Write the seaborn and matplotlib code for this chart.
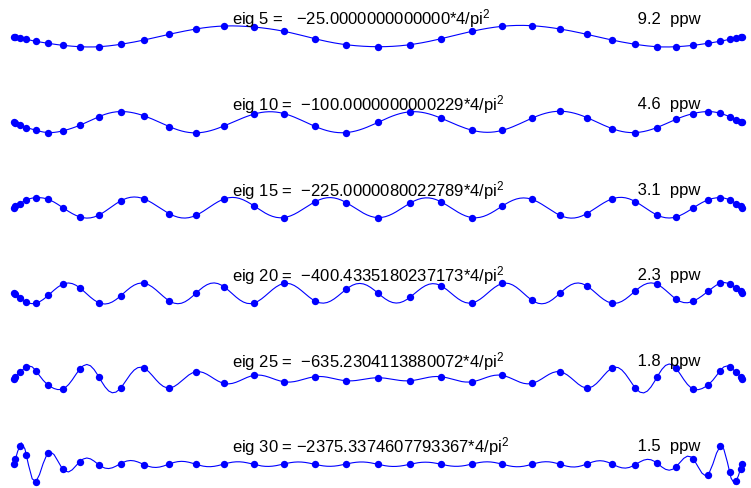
import numpy as np
import matplotlib
matplotlib.use('Agg')
import matplotlib.pyplot as plt
import seaborn as sns
from numpy.polynomial import chebyshev as C

# Chebyshev grid size and the eigenmodes shown
N = 36
modes = [5, 10, 15, 20, 25, 30]
eigvals = [-25.0000000000000, -100.0000000000229, -225.0000080022789,
           -400.4335180237173, -635.2304113880072, -2375.3374607793367]
ppw = [9.2, 4.6, 3.1, 2.3, 1.8, 1.5]

# eigenvector values at the grid points, read left to right (x = -1 ... 1)
eig5 = [0, -0.005, -0.032, -0.076, -0.130, -0.184, -0.238, -0.276, -0.276, -0.211,
        -0.095, 0.059, 0.203, 0.284, 0.257, 0.141, -0.059, -0.222, -0.276, -0.222,
        -0.059, 0.141, 0.276, 0.292, 0.203, 0.059, -0.095, -0.211, -0.276, -0.276,
        -0.238, -0.184, -0.130, -0.076, -0.032, -0.005, 0]
eig10 = [0, -0.014, -0.076, -0.149, -0.222, -0.284, -0.238, -0.086, 0.149, 0.284,
         0.168, -0.122, -0.292, -0.103, 0.211, 0.230, -0.114, -0.284, -0.008, 0.276,
         0.103, -0.222, -0.222, 0.103, 0.292, 0.122, -0.176, -0.284, -0.149, 0.076,
         0.230, 0.284, 0.238, 0.149, 0.068, 0.014, 0]
eig15 = [0, 0.046, 0.108, 0.208, 0.270, 0.224, 0.0, -0.251, -0.197, 0.181,
         0.235, -0.162, -0.208, 0.235, 0.054, -0.270, 0.154, 0.135, -0.270, 0.116,
         0.154, -0.270, 0.046, 0.224, -0.208, -0.162, 0.235, 0.162, -0.197, -0.251,
         -0.008, 0.208, 0.270, 0.208, 0.108, 0.046, 0]
eig20 = [0, -0.027, -0.135, -0.251, -0.270, -0.062, 0.243, 0.143, -0.262, -0.073,
         0.270, -0.208, 0.0, 0.170, -0.270, 0.262, -0.208, 0.108, 0.0, -0.116,
         0.197, -0.262, 0.262, -0.189, 0.0, 0.197, -0.270, 0.062, 0.243, -0.162,
         -0.216, 0.046, 0.270, 0.243, 0.135, 0.054, 0]
eig25 = [0, 0.054, 0.170, 0.324, 0.216, -0.170, -0.278, 0.262, 0.035, -0.251,
         0.289, -0.251, 0.189, -0.127, 0.089, -0.081, 0.054, -0.054, 0.027, -0.054,
         0.054, -0.081, 0.089, -0.127, 0.189, -0.251, 0.289, -0.251, 0.035, 0.278,
         -0.278, -0.170, 0.216, 0.324, 0.170, 0.054, 0]
eig30 = [0, 0.143, 0.505, 0.251, -0.468, 0.305, -0.127, 0.073, -0.019, 0.019,
         -0.008, 0.008, 0, 0.008, 0, 0.008, 0, 0.008, 0, 0,
         0, 0.008, 0, 0, 0, 0.008, 0.008, -0.008, 0.035, -0.062,
         0.143, -0.278, 0.486, -0.216, -0.459, -0.127, 0]
vectors = [eig5, eig10, eig15, eig20, eig25, eig30]

sns.set_style('white')
plt.rcParams['font.family'] = ['Liberation Sans', 'DejaVu Sans']
plt.rcParams['mathtext.fontset'] = 'custom'
plt.rcParams['mathtext.rm'] = 'Liberation Sans'
plt.rcParams['mathtext.default'] = 'regular'
plt.rcParams['text.color'] = 'black'

x = -np.cos(np.pi * np.arange(N + 1) / N)
xx = np.linspace(-1, 1, 201)

fig = plt.figure(figsize=(7.51, 4.89), dpi=100)
for i, (j, u) in enumerate(zip(modes, vectors)):
    zero = 37.5 + 85.56 * i  # pixel row of the zero line
    ax = fig.add_axes([14 / 751, (489 - zero - 33.3) / 489, 728 / 751, 66.6 / 489])
    uu = C.chebval(xx, C.chebfit(x, u, N))
    sns.scatterplot(x=x, y=u, ax=ax, color='blue', s=28, linewidth=0,
                    zorder=2, clip_on=False)
    sns.lineplot(x=xx, y=uu, ax=ax, color='blue', linewidth=0.8, clip_on=False)
    ax.set_xlim(-1, 1)
    ax.set_ylim(-0.9, 0.9)
    ax.axis('off')
    lab = f'eig {j} ={eigvals[i]:20.13f}*4/pi$^2$'.replace('-', '\u2212')
    ax.text(-0.4, 0.5, lab, fontsize=12, va='center', color='black')
    ax.text(0.7, 0.5, f'{ppw[i]:4.1f}  ppw', fontsize=12, va='center', color='black')

fig.savefig('out.png', dpi=100)
